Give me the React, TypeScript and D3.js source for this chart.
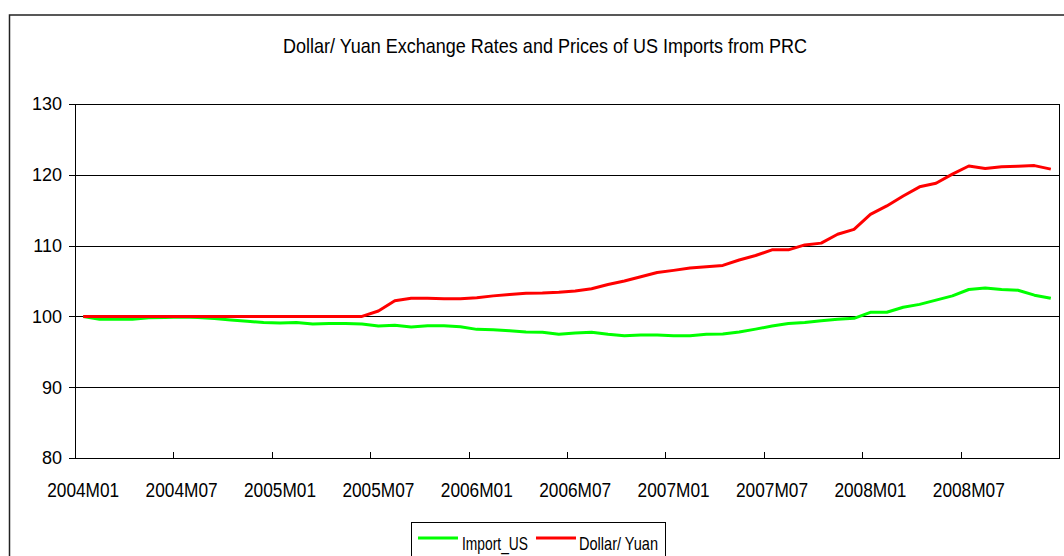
import React, { useEffect, useRef } from 'react';
import * as d3 from 'd3';

// Monthly categories 2004M01 .. 2008M12
const years = [2004, 2005, 2006, 2007, 2008];
const months = years.flatMap(y => d3.range(1, 13).map(m => `${y}M${String(m).padStart(2, '0')}`));

const tickLabels = ['2004M01', '2004M07', '2005M01', '2005M07', '2006M01', '2006M07', '2007M01', '2007M07', '2008M01', '2008M07'];
const yTicks = [80, 90, 100, 110, 120, 130];

const importUS = [
  100, 99.6, 99.6, 99.6, 99.8, 99.85, 99.9, 99.85, 99.7, 99.5,
  99.3, 99.15, 99.07, 99.15, 98.93, 99.0, 99.0, 98.93, 98.64, 98.74,
  98.5, 98.69, 98.69, 98.55, 98.17, 98.13, 97.98, 97.8, 97.76, 97.47,
  97.66, 97.76, 97.47, 97.28, 97.37, 97.37, 97.28, 97.28, 97.47, 97.5,
  97.8, 98.2, 98.64, 99.0, 99.15, 99.4, 99.6, 99.73, 100.58, 100.58,
  101.3, 101.7, 102.3, 102.9, 103.8, 104.0, 103.8, 103.7, 103.0, 102.55
];

const dollarYuan = [
  100, 100, 100, 100, 100, 100, 100, 100, 100, 100,
  100, 100, 100, 100, 100, 100, 100, 100, 100.76, 102.2,
  102.55, 102.55, 102.5, 102.5, 102.65, 102.9, 103.1, 103.26, 103.3, 103.4,
  103.6, 103.9, 104.5, 105.0, 105.6, 106.2, 106.5, 106.85, 107.0, 107.2,
  107.97, 108.6, 109.4, 109.4, 110.1, 110.35, 111.6, 112.3, 114.4, 115.6,
  117.0, 118.3, 118.8, 120.1, 121.24, 120.9, 121.15, 121.2, 121.3, 120.8
];

const series = [
  { name: 'Import_US', values: importUS, color: '#00ff00' },
  { name: 'Dollar/ Yuan', values: dollarYuan, color: '#ff0000' }
];

const FONT = "'Liberation Sans', Arial, sans-serif";

const App = () => {
  const svgRef = useRef<SVGSVGElement>(null);

  useEffect(() => {
    if (!svgRef.current) return;
    const svg = d3.select(svgRef.current);
    svg.selectAll('*').remove();

    const width = 1064;
    const height = 556;
    const plot = { left: 75, right: 1059, top: 104, bottom: 458 };

    svg.attr('width', width).attr('height', height);

    svg.append('rect').attr('width', width).attr('height', height).attr('fill', '#fff');

    // outer chart frame
    svg.append('rect')
      .attr('x', 9.5).attr('y', 15)
      .attr('width', 1100).attr('height', 600)
      .attr('fill', 'none').attr('stroke', '#222').attr('stroke-width', 1.5);

    // title
    svg.append('text')
      .attr('x', 545).attr('y', 53)
      .attr('text-anchor', 'middle')
      .attr('font-family', FONT).attr('font-size', 21)
      .attr('textLength', 524).attr('lengthAdjust', 'spacingAndGlyphs')
      .attr('fill', '#000')
      .text('Dollar/ Yuan Exchange Rates and Prices of US Imports from PRC');

    const x = d3.scaleBand().domain(months).range([plot.left, plot.right]).paddingInner(0).paddingOuter(0);
    const y = d3.scaleLinear().domain([80, 130]).range([plot.bottom, plot.top]);
    const cx = (m: string) => (x(m) as number) + x.bandwidth() / 2;

    // gridlines
    svg.append('g').selectAll('line')
      .data(yTicks.filter(t => t > 80))
      .enter().append('line')
      .attr('x1', plot.left).attr('x2', plot.right)
      .attr('y1', d => Math.round(y(d)) + 0.5).attr('y2', d => Math.round(y(d)) + 0.5)
      .attr('stroke', '#000').attr('stroke-width', 1);

    // plot frame: right side
    svg.append('line')
      .attr('x1', plot.right + 0.5).attr('x2', plot.right + 0.5)
      .attr('y1', plot.top).attr('y2', plot.bottom)
      .attr('stroke', '#000');

    // y axis
    const yAxis = svg.append('g');
    yAxis.append('line')
      .attr('x1', plot.left + 0.5).attr('x2', plot.left + 0.5)
      .attr('y1', plot.top).attr('y2', plot.bottom + 0.5)
      .attr('stroke', '#000');
    yAxis.selectAll('.ytick')
      .data(yTicks).enter().append('line')
      .attr('x1', plot.left - 6).attr('x2', plot.left)
      .attr('y1', d => Math.round(y(d)) + 0.5).attr('y2', d => Math.round(y(d)) + 0.5)
      .attr('stroke', '#000');
    yAxis.selectAll('text')
      .data(yTicks).enter().append('text')
      .attr('x', 62).attr('y', d => y(d))
      .attr('dy', '0.36em')
      .attr('text-anchor', 'end')
      .attr('font-family', FONT).attr('font-size', 18)
      .attr('fill', '#000')
      .text(d => d);

    // x axis
    const xAxis = svg.append('g');
    xAxis.append('line')
      .attr('x1', plot.left).attr('x2', plot.right + 1)
      .attr('y1', plot.bottom + 0.5).attr('y2', plot.bottom + 0.5)
      .attr('stroke', '#000');
    const boundaries = months.filter((_, i) => i % 6 === 0 && i > 0);
    xAxis.selectAll('.xtick')
      .data(boundaries).enter().append('line')
      .attr('x1', d => Math.round(x(d) as number) + 0.5).attr('x2', d => Math.round(x(d) as number) + 0.5)
      .attr('y1', plot.bottom - 6).attr('y2', plot.bottom)
      .attr('stroke', '#000');
    xAxis.selectAll('text')
      .data(tickLabels).enter().append('text')
      .attr('x', d => cx(d)).attr('y', 497)
      .attr('text-anchor', 'middle')
      .attr('font-family', FONT).attr('font-size', 19.5)
      .attr('textLength', 72).attr('lengthAdjust', 'spacingAndGlyphs')
      .attr('fill', '#000')
      .text(d => d);

    // lines
    const line = d3.line<number>()
      .x((_, i) => cx(months[i]))
      .y(d => y(d));

    svg.append('g').selectAll('path')
      .data(series).enter().append('path')
      .attr('d', d => line(d.values))
      .attr('fill', 'none')
      .attr('stroke', d => d.color)
      .attr('stroke-width', 3)
      .attr('stroke-linejoin', 'round');

    // legend
    const legend = svg.append('g');
    legend.append('rect')
      .attr('x', 411.5).attr('y', 522.5)
      .attr('width', 254).attr('height', 50)
      .attr('fill', '#fff').attr('stroke', '#000');

    const legendItems = [
      { ...series[0], lx: 418, tx: 462, tw: 66 },
      { ...series[1], lx: 536, tx: 579, tw: 79 }
    ];
    legendItems.forEach(item => {
      legend.append('line')
        .attr('x1', item.lx).attr('x2', item.lx + 40)
        .attr('y1', 538).attr('y2', 538)
        .attr('stroke', item.color).attr('stroke-width', 3);
      legend.append('text')
        .attr('x', item.tx).attr('y', 550)
        .attr('font-family', FONT).attr('font-size', 19)
        .attr('textLength', item.tw).attr('lengthAdjust', 'spacingAndGlyphs')
        .attr('fill', '#000')
        .text(item.name);
    });
  }, []);

  return (
    <div style={{ position: 'absolute', left: 0, top: 0 }}>
      <svg ref={svgRef} style={{ display: 'block' }}></svg>
    </div>
  );
};

export default App;
